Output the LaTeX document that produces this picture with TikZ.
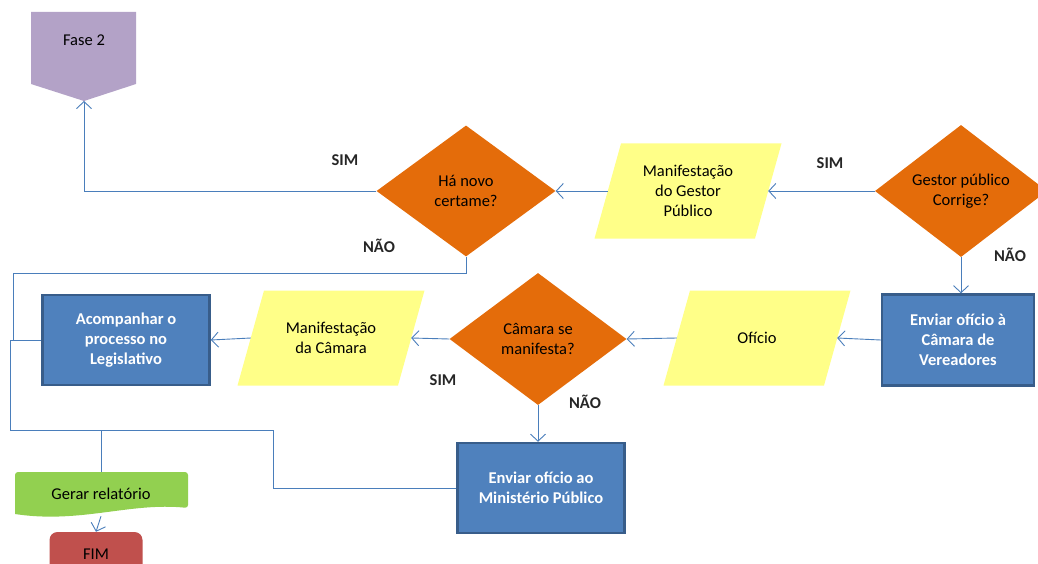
\documentclass[tikz,border=0pt]{standalone}
\usepackage{fontspec}
\setmainfont{Carlito}
\usetikzlibrary{shapes.geometric,arrows.meta}
\definecolor{laranja}{HTML}{E46C0A}
\definecolor{amarelo}{HTML}{FFFF88}
\definecolor{azul}{HTML}{4F81BD}
\definecolor{azulborda}{HTML}{385D8A}
\definecolor{linhacor}{HTML}{4A7EBB}
\definecolor{lilas}{HTML}{B3A2C7}
\definecolor{verde}{HTML}{92D050}
\definecolor{vermelho}{HTML}{C0504D}
\newcommand{\fonte}{\fontsize{16.5}{20}\selectfont}
\begin{document}
\begin{tikzpicture}
    [x=1pt, y=-1pt,
     decisao/.style={diamond, fill=laranja, inner sep=0pt, align=center, font=\fonte},
     dados/.style={rectangle, inner sep=0pt, minimum width=160, minimum height=95,
                   align=center, font=\fonte},
     caixa/.style={rectangle, fill=azul, draw=azulborda, line width=2.5pt,
                   text=white, align=center, font=\fonte\bfseries},
     rotulo/.style={font=\fonte\bfseries, text=black!85},
     linha/.style={draw=linhacor, line width=0.9pt},
     seta/.style={linha, -{Straight Barb[length=7pt,width=15pt]}}]
    \useasboundingbox (0,0) rectangle (1038,564);

    % Fase 2
    \fill[lilas] (31,12) -- (136,12) -- (136,84) -- (84,101) -- (31,84) -- cycle;
    \node[font=\fonte] (Z) at (84,40) {Fase 2};
    \coordinate (Zp) at (84,101);

    % paralelogramos (fundo)
    \foreach \c in {(688,191),(757,338),(331,338)}
        \fill[amarelo, shift={\c}] (-67,-47.5) -- (93.5,-47.5) -- (67,47.5) -- (-93.5,47.5) -- cycle;

    \node[decisao, minimum width=179, minimum height=131] (H) at (466,191) {Há novo\\certame?};
    \node[dados] (M) at (688,191) {Manifestação\\do Gestor\\Público};
    \node[decisao, minimum width=172, minimum height=132] (G) at (961,191) {Gestor público\\Corrige?};

    \node[caixa, minimum width=152, minimum height=91] (V) at (958,340) {Enviar ofício à\\Câmara de\\Vereadores};
    \node[dados] (O) at (757,338) {Ofício};
    \node[decisao, minimum width=177, minimum height=132] (C) at (538,339) {Câmara se\\manifesta?};
    \node[dados] (N) at (331,338) {Manifestação\\da Câmara};
    \node[caixa, minimum width=167, minimum height=90] (A) at (126,340) {Acompanhar o\\processo no\\Legislativo};
    \node[caixa, minimum width=167, minimum height=90] (P) at (541,488) {Enviar ofício ao\\Ministério Público};

    % Gerar relatorio (documento)
    \fill[verde] (15,476) [rounded corners=3pt] -- (15,472) -- (188,472) -- (188,508) [sharp corners]
        .. controls (130,502) and (80,524) .. (15,514) -- cycle;
    \node[font=\fonte, minimum width=173, minimum height=44] (R) at (101,494) {Gerar relatório};
    \node[rectangle, rounded corners=8pt, fill=vermelho, minimum width=93, minimum height=44,
          font=\fonte] (F) at (96,554) {FIM};

    % rotulos
    \node[rotulo] (S1) at (345,160) {SIM};
    \node[rotulo] (N1) at (379,246) {NÃO};
    \node[rotulo] (S2) at (830,163) {SIM};
    \node[rotulo] (N2) at (1010,255) {NÃO};
    \node[rotulo] (S3) at (443,380) {SIM};
    \node[rotulo] (N3) at (585,402) {NÃO};

    \coordinate (E1) at (13,273);
    \coordinate (E2) at (10,430);
    \coordinate (E3) at (101,430);
    \coordinate (E4) at (273,430);

    \draw[seta] (G.west) -- (M.east);
    \draw[seta] (M.west) -- (H.east);
    \draw[seta] (H.west) -| (Zp);
    \draw[seta] (G.south) -- (G.south |- V.north);
    \draw[seta] (V.west) -- (O.east);
    \draw[seta] (O.west) -- (C.east);
    \draw[seta] (C.west) -- (N.east);
    \draw[seta] (N.west) -- (A.east);
    \draw[seta] (C.south) -- (C.south |- P.north);

    \draw[linha] (H.south) |- (E1) -- (E1 |- A.west);
    \draw[linha] (A.west) -| (E2) -- (E4);
    \draw[linha] (P.west) -| (E4);
    \draw[linha] (E3) -- (R.north);
    \draw[seta] (R.south) -- (F.north);

\end{tikzpicture}
\end{document}
